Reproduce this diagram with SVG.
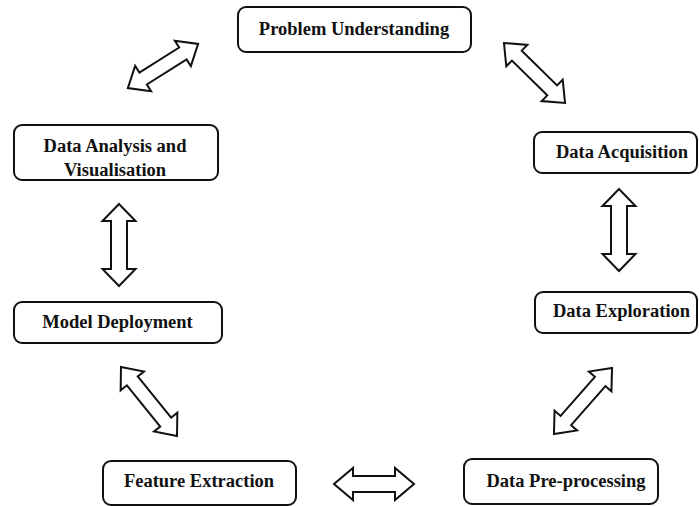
<svg xmlns="http://www.w3.org/2000/svg" width="699" height="506" viewBox="0 0 699 506">
<style>
.box{fill:#fff;stroke:#111;stroke-width:2}
.lbl{font-family:"Liberation Serif","Times New Roman",serif;font-weight:bold;font-size:18.5px;fill:#111;text-anchor:middle}
.arr{fill:#fff;stroke:#111;stroke-width:2;stroke-linejoin:miter}
</style>
<rect width="699" height="506" fill="#fff"/>
<g id="connectors">
<polygon class="arr" transform="translate(163,66) rotate(-32.2)" points="-41.5,0 -23.5,-15 -23.5,-7 23.5,-7 23.5,-15 41.5,0 23.5,15 23.5,7 -23.5,7 -23.5,15"/>
<polygon class="arr" transform="translate(534.5,73) rotate(44.5)" points="-42.8,0 -24.8,-15 -24.8,-7 24.8,-7 24.8,-15 42.8,0 24.8,15 24.8,7 -24.8,7 -24.8,15"/>
<polygon class="arr" transform="translate(119,245) rotate(90)" points="-41,0 -24,-16.5 -24,-8 24,-8 24,-16.5 41,0 24,16.5 24,8 -24,8 -24,16.5"/>
<polygon class="arr" transform="translate(619,230) rotate(90)" points="-41,0 -24,-16.5 -24,-8 24,-8 24,-16.5 41,0 24,16.5 24,8 -24,8 -24,16.5"/>
<polygon class="arr" transform="translate(149,401.5) rotate(51)" points="-44.5,0 -26.5,-15 -26.5,-7 26.5,-7 26.5,-15 44.5,0 26.5,15 26.5,7 -26.5,7 -26.5,15"/>
<polygon class="arr" transform="translate(583,401) rotate(-48.7)" points="-44,0 -26,-15 -26,-7 26,-7 26,-15 44,0 26,15 26,7 -26,7 -26,15"/>
<polygon class="arr" transform="translate(374,484)" points="-40,0 -21,-16 -21,-8 21,-8 21,-16 40,0 21,16 21,8 -21,8 -21,16"/>
</g>
<g id="problem-understanding">
<rect class="box" x="238" y="7" width="233" height="45" rx="8"/>
<text class="lbl" x="354" y="35">Problem Understanding</text>
</g>
<g id="data-analysis">
<rect class="box" x="14" y="125" width="204" height="55" rx="8"/>
<text class="lbl" x="115" y="152">Data Analysis and</text>
<text class="lbl" x="115" y="176">Visualisation</text>
</g>
<g id="data-acquisition">
<rect class="box" x="534" y="132" width="163" height="41" rx="8"/>
<text class="lbl" x="622" y="158">Data Acquisition</text>
</g>
<g id="data-exploration">
<rect class="box" x="535" y="292" width="162" height="41" rx="8"/>
<text class="lbl" x="621.5" y="317">Data Exploration</text>
</g>
<g id="model-deployment">
<rect class="box" x="14" y="302" width="208" height="41" rx="8"/>
<text class="lbl" x="117.5" y="328">Model Deployment</text>
</g>
<g id="feature-extraction">
<rect class="box" x="103" y="461" width="193" height="44" rx="8"/>
<text class="lbl" x="199" y="487">Feature Extraction</text>
</g>
<g id="data-preprocessing">
<rect class="box" x="464" y="459" width="194" height="45" rx="8"/>
<text class="lbl" x="566" y="487">Data Pre-processing</text>
</g>
</svg>
